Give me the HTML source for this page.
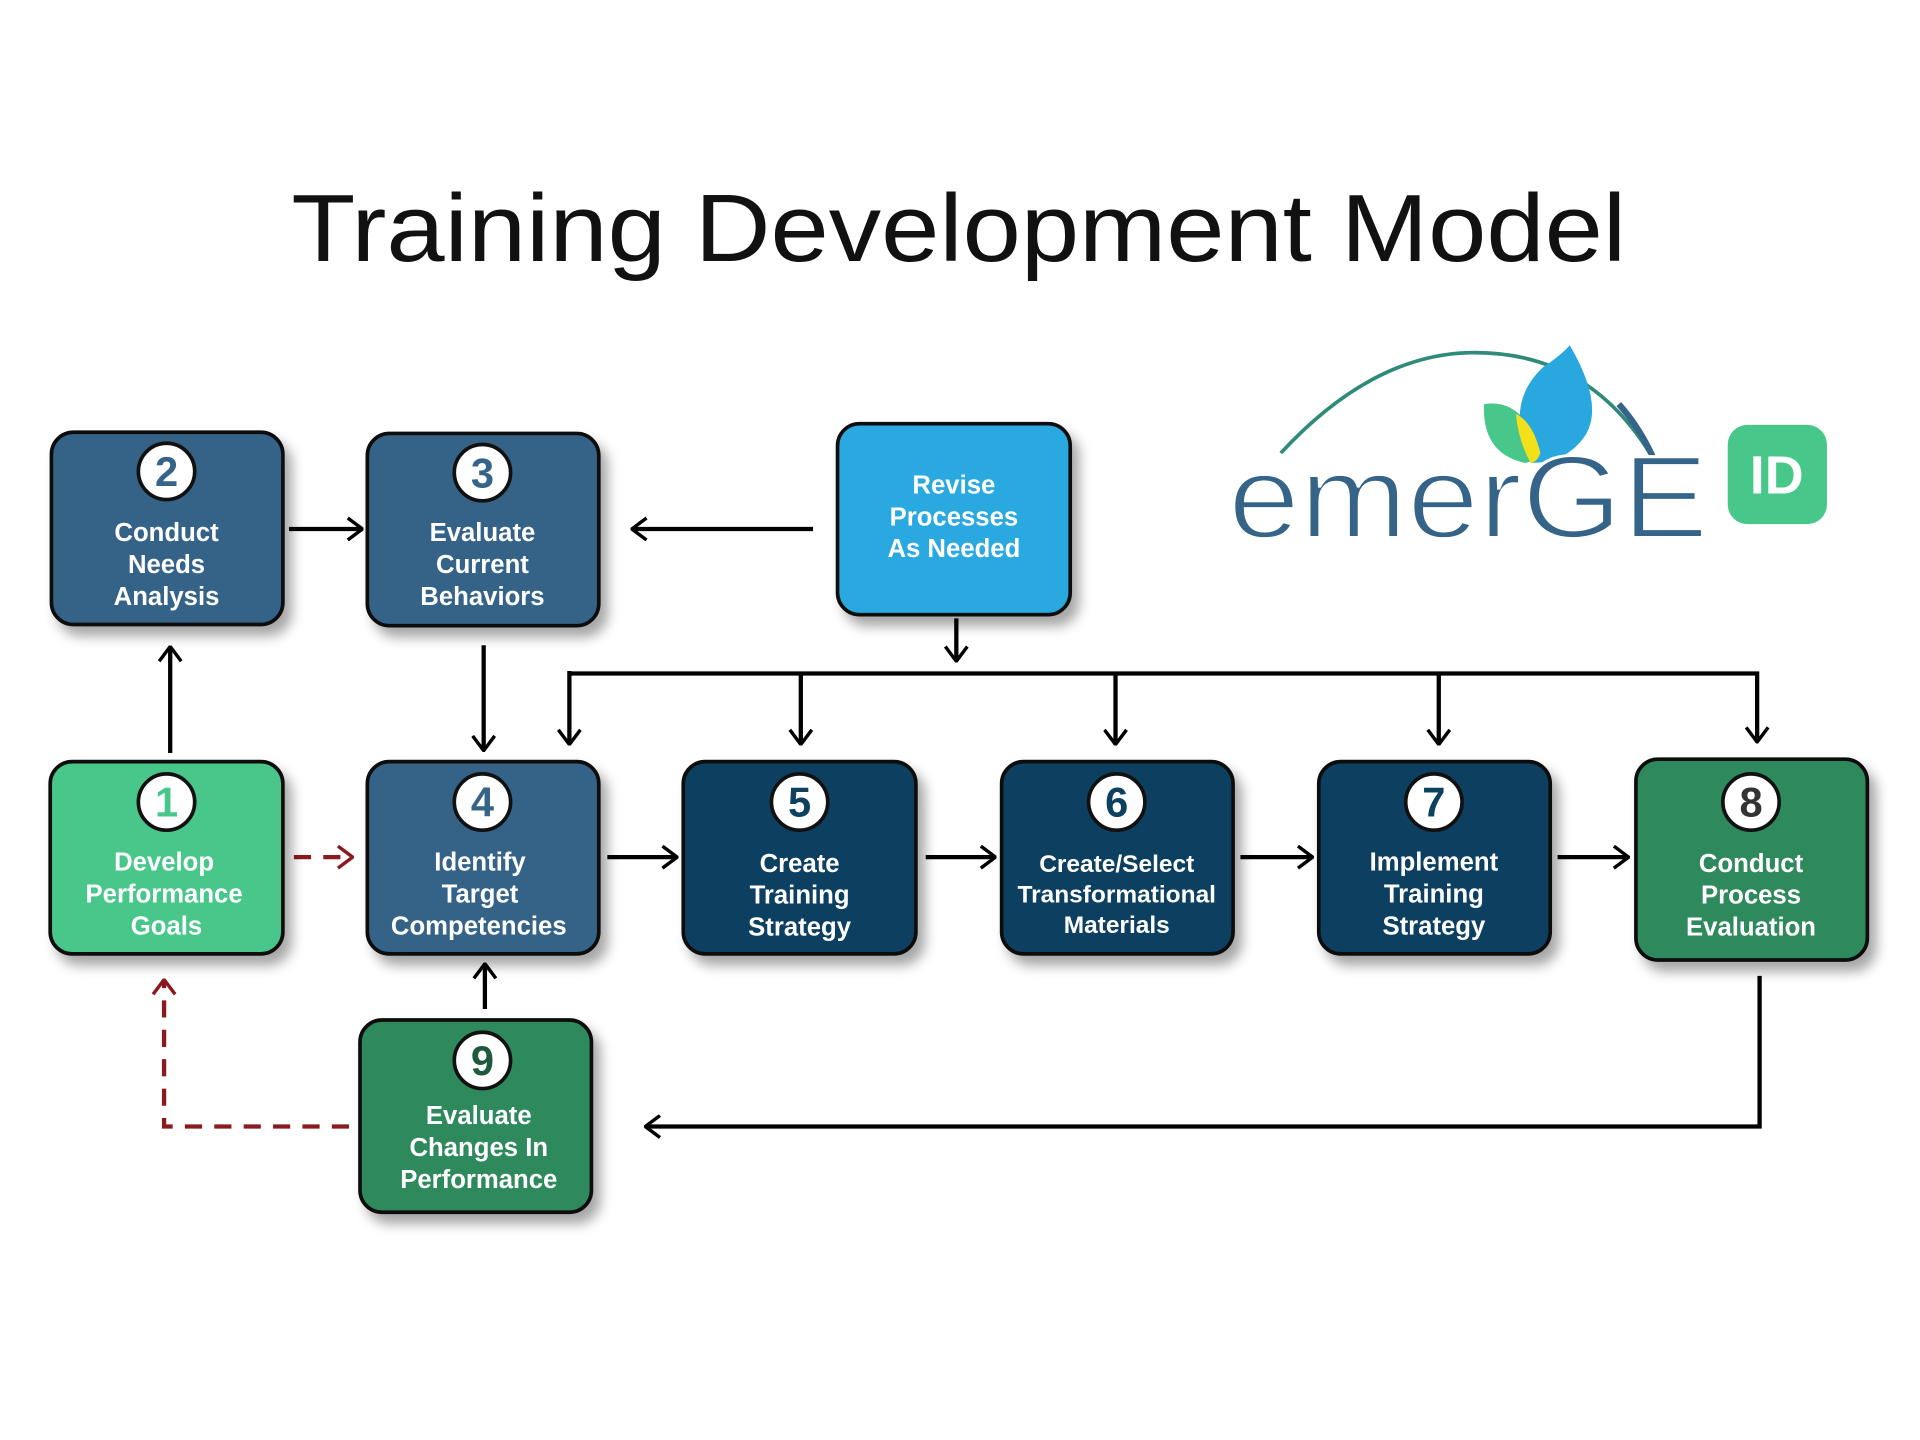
<!DOCTYPE html>
<html><head><meta charset="utf-8"><style>
html,body{margin:0;padding:0;background:#fff;}
svg{display:block;}
text{font-family:"Liberation Sans",sans-serif;}
</style></head><body>
<svg width="1920" height="1440" viewBox="0 0 1568 1176" xmlns="http://www.w3.org/2000/svg">
<defs>
<filter id="sh" x="-20%" y="-20%" width="150%" height="150%">
<feDropShadow dx="6" dy="8" stdDeviation="5" flood-color="#000" flood-opacity="0.35"/>
</filter>
<marker id="ar" viewBox="0 0 14 20" refX="13" refY="10" markerWidth="14" markerHeight="20" markerUnits="userSpaceOnUse" orient="auto">
<path d="M1,1 L13,10 L1,19" fill="none" stroke="#000" stroke-width="2.8"/>
</marker>
<marker id="arr" viewBox="0 0 14 20" refX="13" refY="10" markerWidth="14" markerHeight="20" markerUnits="userSpaceOnUse" orient="auto">
<path d="M1,1 L13,10 L1,19" fill="none" stroke="#8b1a1f" stroke-width="2.8"/>
</marker>
</defs>
<rect width="1568" height="1176" fill="#fff"/>
<text x="783" y="213" font-size="78" text-anchor="middle" textLength="1090" lengthAdjust="spacingAndGlyphs" fill="#111">Training Development Model</text>

<g stroke="#000" stroke-width="3.5" fill="none">
<line x1="236" y1="432" x2="296" y2="432" marker-end="url(#ar)"/>
<line x1="664" y1="432" x2="516" y2="432" marker-end="url(#ar)"/>
<line x1="781" y1="505" x2="781" y2="540" marker-end="url(#ar)"/>
<polyline points="465,550 1435,550 1435,606" marker-end="url(#ar)"/>
<line x1="465" y1="548" x2="465" y2="608" marker-end="url(#ar)"/>
<line x1="654" y1="550" x2="654" y2="608" marker-end="url(#ar)"/>
<line x1="911" y1="550" x2="911" y2="608" marker-end="url(#ar)"/>
<line x1="1175" y1="550" x2="1175" y2="608" marker-end="url(#ar)"/>
<line x1="395" y1="527" x2="395" y2="613" marker-end="url(#ar)"/>
<line x1="139" y1="615" x2="139" y2="528" marker-end="url(#ar)"/>
<line x1="496" y1="700" x2="553" y2="700" marker-end="url(#ar)"/>
<line x1="756" y1="700" x2="813" y2="700" marker-end="url(#ar)"/>
<line x1="1013" y1="700" x2="1072" y2="700" marker-end="url(#ar)"/>
<line x1="1272" y1="700" x2="1330" y2="700" marker-end="url(#ar)"/>
<line x1="396" y1="824" x2="396" y2="787" marker-end="url(#ar)"/>
<polyline points="1437,797 1437,920 527,920" marker-end="url(#ar)"/>
</g>
<g stroke="#8b1a1f" stroke-width="3.5" fill="none" stroke-dasharray="14,10">
<line x1="240" y1="700" x2="288" y2="700" marker-end="url(#arr)"/>
<polyline points="285,920 134,920 134,800" marker-end="url(#arr)"/>
</g>

<g stroke="#111" stroke-width="3" filter="url(#sh)">
<rect x="42" y="353" width="189" height="157" rx="18" fill="#356488"/>
<rect x="300" y="354" width="189" height="157" rx="18" fill="#356488"/>
<rect x="684" y="346" width="190" height="156" rx="18" fill="#29a8e0"/>
<rect x="41" y="622" width="190" height="157" rx="18" fill="#48c78a"/>
<rect x="300" y="622" width="189" height="157" rx="18" fill="#356488"/>
<rect x="558" y="622" width="190" height="157" rx="18" fill="#0c4160"/>
<rect x="818" y="622" width="189" height="157" rx="18" fill="#0c4160"/>
<rect x="1077" y="622" width="189" height="157" rx="18" fill="#0c4160"/>
<rect x="1336" y="620" width="189" height="164" rx="18" fill="#2e8a5c"/>
<rect x="294" y="833" width="189" height="157" rx="18" fill="#2e8a5c"/>
</g>

<g stroke="#111" stroke-width="3" fill="#fff">
<circle cx="136" cy="385" r="23"/>
<circle cx="394" cy="386" r="23"/>
<circle cx="136" cy="655" r="23"/>
<circle cx="394" cy="655" r="23"/>
<circle cx="653" cy="655" r="23"/>
<circle cx="912" cy="655" r="23"/>
<circle cx="1171" cy="655" r="23"/>
<circle cx="1430" cy="655" r="23"/>
<circle cx="394" cy="866" r="23"/>
</g>
<g font-size="34" font-weight="bold" text-anchor="middle">
<text x="136" y="397" fill="#356488">2</text>
<text x="394" y="398" fill="#356488">3</text>
<text x="136" y="667" fill="#48c78a">1</text>
<text x="394" y="667" fill="#356488">4</text>
<text x="653" y="667" fill="#0c4160">5</text>
<text x="912" y="667" fill="#0c4160">6</text>
<text x="1171" y="667" fill="#0c4160">7</text>
<text x="1430" y="667" fill="#333">8</text>
<text x="394" y="878" fill="#1f5a3c">9</text>
</g>

<g font-size="21" font-weight="bold" text-anchor="middle" fill="#fff">
<text x="136" y="442">Conduct</text><text x="136" y="468">Needs</text><text x="136" y="494">Analysis</text>
<text x="394" y="442">Evaluate</text><text x="394" y="468">Current</text><text x="394" y="494">Behaviors</text>
<text x="779" y="403">Revise</text><text x="779" y="429">Processes</text><text x="779" y="455">As Needed</text>
<text x="134" y="711">Develop</text><text x="134" y="737">Performance</text><text x="136" y="763">Goals</text>
<text x="392" y="711">Identify</text><text x="392" y="737">Target</text><text x="391" y="763">Competencies</text>
<text x="653" y="712">Create</text><text x="653" y="738">Training</text><text x="653" y="764">Strategy</text>
<text x="912" y="712" font-size="20">Create/Select</text><text x="912" y="737" font-size="20">Transformational</text><text x="912" y="762" font-size="20">Materials</text>
<text x="1171" y="711">Implement</text><text x="1171" y="737">Training</text><text x="1171" y="763">Strategy</text>
<text x="1430" y="712">Conduct</text><text x="1430" y="738">Process</text><text x="1430" y="764">Evaluation</text>
<text x="391" y="918">Evaluate</text><text x="391" y="944">Changes In</text><text x="391" y="970">Performance</text>
</g>

<path d="M1046,370 Q1120,290 1200,288 Q1300,286 1352,378" fill="none" stroke="#2f8a7a" stroke-width="3"/>
<path d="M1352,378 Q1340,350 1322,330" fill="none" stroke="#356488" stroke-width="5"/>
<path d="M1212,330 Q1245,325 1258,370 Q1252,378 1245,378 Q1210,370 1212,330Z" fill="#48c78a"/>
<path d="M1250,378 Q1228,330 1260,300 Q1275,290 1282,282 Q1310,330 1295,355 Q1280,378 1250,378Z" fill="#29a8e0"/>
<path d="M1238,338 Q1252,345 1258,370 Q1255,378 1250,378 Q1240,360 1238,338Z" fill="#f2e01a"/>
<text x="1003" y="439" font-size="96" fill="#356488" stroke="#fff" stroke-width="2.5" textLength="392" lengthAdjust="spacingAndGlyphs">emerGE</text>
<rect x="1411" y="347" width="81" height="81" rx="16" fill="#48c78a"/>
<text x="1451" y="403" font-size="44" font-weight="bold" fill="#fff" text-anchor="middle">ID</text>
</svg>
</body></html>
